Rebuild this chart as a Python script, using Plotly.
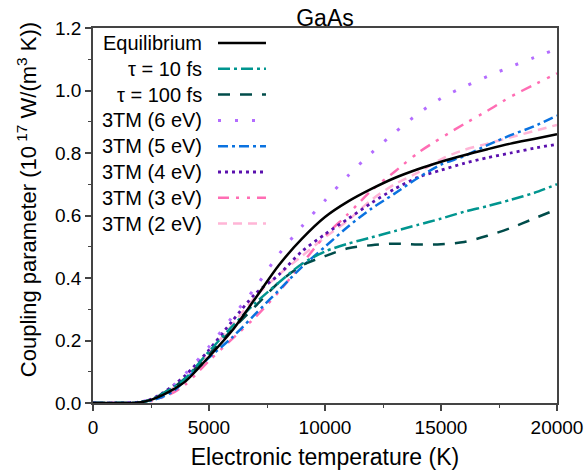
import plotly.graph_objects as go

# ---------------- data ----------------
temps = [0, 1000, 2000, 2500, 3000, 3500, 4000, 5000, 6000, 7000, 8000, 9000,
         10000, 11000, 12000, 13000, 14000, 15000, 16000, 17000, 18000, 19000, 20000]

equilibrium = [0, 0, 0.002, 0.01, 0.025, 0.045, 0.07, 0.148, 0.232, 0.335, 0.44, 0.525,
               0.595, 0.645, 0.685, 0.72, 0.748, 0.772, 0.793, 0.812, 0.83, 0.845, 0.86]
tau_10fs = [0, 0, 0.002, 0.01, 0.03, 0.052, 0.08, 0.165, 0.245, 0.32, 0.385, 0.445,
            0.485, 0.51, 0.53, 0.55, 0.57, 0.59, 0.612, 0.63, 0.65, 0.672, 0.70]
tau_100fs = [0, 0, 0.002, 0.01, 0.03, 0.052, 0.08, 0.155, 0.235, 0.31, 0.385, 0.44,
             0.47, 0.495, 0.505, 0.51, 0.507, 0.508, 0.515, 0.535, 0.56, 0.59, 0.62]
tm_6ev = [0, 0, 0.003, 0.012, 0.03, 0.058, 0.095, 0.18, 0.275, 0.37, 0.475, 0.565,
          0.648, 0.728, 0.80, 0.865, 0.925, 0.975, 1.012, 1.045, 1.076, 1.105, 1.133]
tm_5ev = [0, 0, 0.002, 0.008, 0.02, 0.04, 0.075, 0.145, 0.21, 0.285, 0.36, 0.435,
          0.50, 0.565, 0.622, 0.67, 0.72, 0.763, 0.79, 0.825, 0.857, 0.885, 0.92]
tm_4ev = [0, 0, 0.003, 0.012, 0.032, 0.058, 0.09, 0.17, 0.262, 0.35, 0.41, 0.485,
          0.54, 0.59, 0.64, 0.685, 0.722, 0.745, 0.767, 0.785, 0.80, 0.815, 0.828]
tm_3ev = [0, 0, 0.001, 0.006, 0.018, 0.035, 0.06, 0.135, 0.205, 0.275, 0.355, 0.445,
          0.535, 0.605, 0.68, 0.74, 0.80, 0.848, 0.893, 0.935, 0.98, 1.018, 1.055]
tm_2ev = [0, 0, 0.002, 0.01, 0.028, 0.05, 0.082, 0.16, 0.25, 0.34, 0.41, 0.47,
          0.53, 0.585, 0.65, 0.70, 0.737, 0.78, 0.81, 0.83, 0.85, 0.87, 0.89]

names = ["Equilibrium", "τ = 10 fs", "τ = 100 fs", "3TM (6 eV)", "3TM (5 eV)",
         "3TM (4 eV)", "3TM (3 eV)", "3TM (2 eV)"]
series = [equilibrium, tau_10fs, tau_100fs, tm_6ev, tm_5ev, tm_4ev, tm_3ev, tm_2ev]

x_ticks = [0, 5000, 10000, 15000, 20000]
y_ticks = [0.0, 0.2, 0.4, 0.6, 0.8, 1.0, 1.2]

# ---------------- styles ----------------
colors = ["#000000", "#00958f", "#004c4a", "#b36cff", "#0a72e0", "#5a10ae", "#ff6db4", "#ffb5d6"]
dashes = ["solid", "12px,4px,3px,4px", "12px,10px", "3px,14px", "10px,4px,3px,4px",
          "3px,4px", "11px,7px,3px,8px,3px,7px", "9px,6px"]
widths = [2.5, 2.5, 2.5, 3, 2.5, 2.8, 2.5, 2.5]

FONT = "Liberation Sans, Arial, sans-serif"

fig = go.Figure()
# draw in reverse so equilibrium stays visible on top
for i in reversed(range(len(series))):
    fig.add_trace(go.Scatter(
        x=temps, y=series[i], mode="lines", name=names[i], showlegend=False,
        line=dict(color=colors[i], dash=dashes[i], width=widths[i], shape="spline", smoothing=0.8),
    ))

# custom legend (text right-aligned, sample line to the right)
L0, STEP = 0.96, 0.0688
for i, nm in enumerate(names):
    yy = L0 - i * STEP
    fig.add_annotation(x=0.2392, y=yy, xref="paper", yref="paper", text=nm, showarrow=False,
                       xanchor="right", yanchor="middle", font=dict(size=20, color="#000", family=FONT))
    fig.add_shape(type="line", xref="paper", yref="paper", x0=0.2694, x1=0.3728, y0=yy, y1=yy,
                  line=dict(color=colors[i], dash=dashes[i], width=widths[i]))

# y-axis title as an annotation (slightly above plot centre, as in the reference)
fig.add_annotation(x=0, y=0.541, xref="paper", yref="paper", xshift=-66, textangle=-90,
                   text="Coupling parameter (10<sup> 17</sup> W/(m<sup>3</sup> K))", showarrow=False,
                   xanchor="center", yanchor="middle", font=dict(size=22, family=FONT, color="#000"))

fig.update_layout(
    width=585, height=470,
    margin=dict(l=93, r=28, t=28, b=67, autoexpand=False),
    paper_bgcolor="white", plot_bgcolor="white",
    font=dict(family=FONT, size=19, color="#000"),
    title=dict(text="GaAs", x=0.5, xref="paper", xanchor="center", y=1 - 18 / 470, yref="container",
               yanchor="middle", font=dict(size=23, family=FONT, color="#000")),
)
fig.update_xaxes(
    range=[0, 20000], tickvals=x_ticks, ticktext=[str(v) for v in x_ticks], automargin=False,
    showgrid=False, zeroline=False, showline=True, linecolor="#444", linewidth=1.5, mirror=True,
    ticks="outside", ticklen=6, tickwidth=1.5, tickcolor="#444",
    minor=dict(ticks="outside", ticklen=3, tickwidth=1.2, tickcolor="#444", dtick=2500, tick0=0, showgrid=False),
    title=dict(text="Electronic temperature (K)", font=dict(size=23, family=FONT), standoff=12),
    tickfont=dict(size=19, family=FONT),
)
fig.update_yaxes(
    range=[0, 1.2], tickvals=y_ticks, ticktext=[f"{v:.1f}" for v in y_ticks], automargin=False,
    showgrid=False, zeroline=False, showline=True, linecolor="#444", linewidth=1.5, mirror=True,
    ticks="outside", ticklen=6, tickwidth=1.5, tickcolor="#444",
    minor=dict(ticks="outside", ticklen=3, tickwidth=1.2, tickcolor="#444", dtick=0.1, tick0=0, showgrid=False),
    tickfont=dict(size=19, family=FONT),
)

fig.write_html("out.html")
